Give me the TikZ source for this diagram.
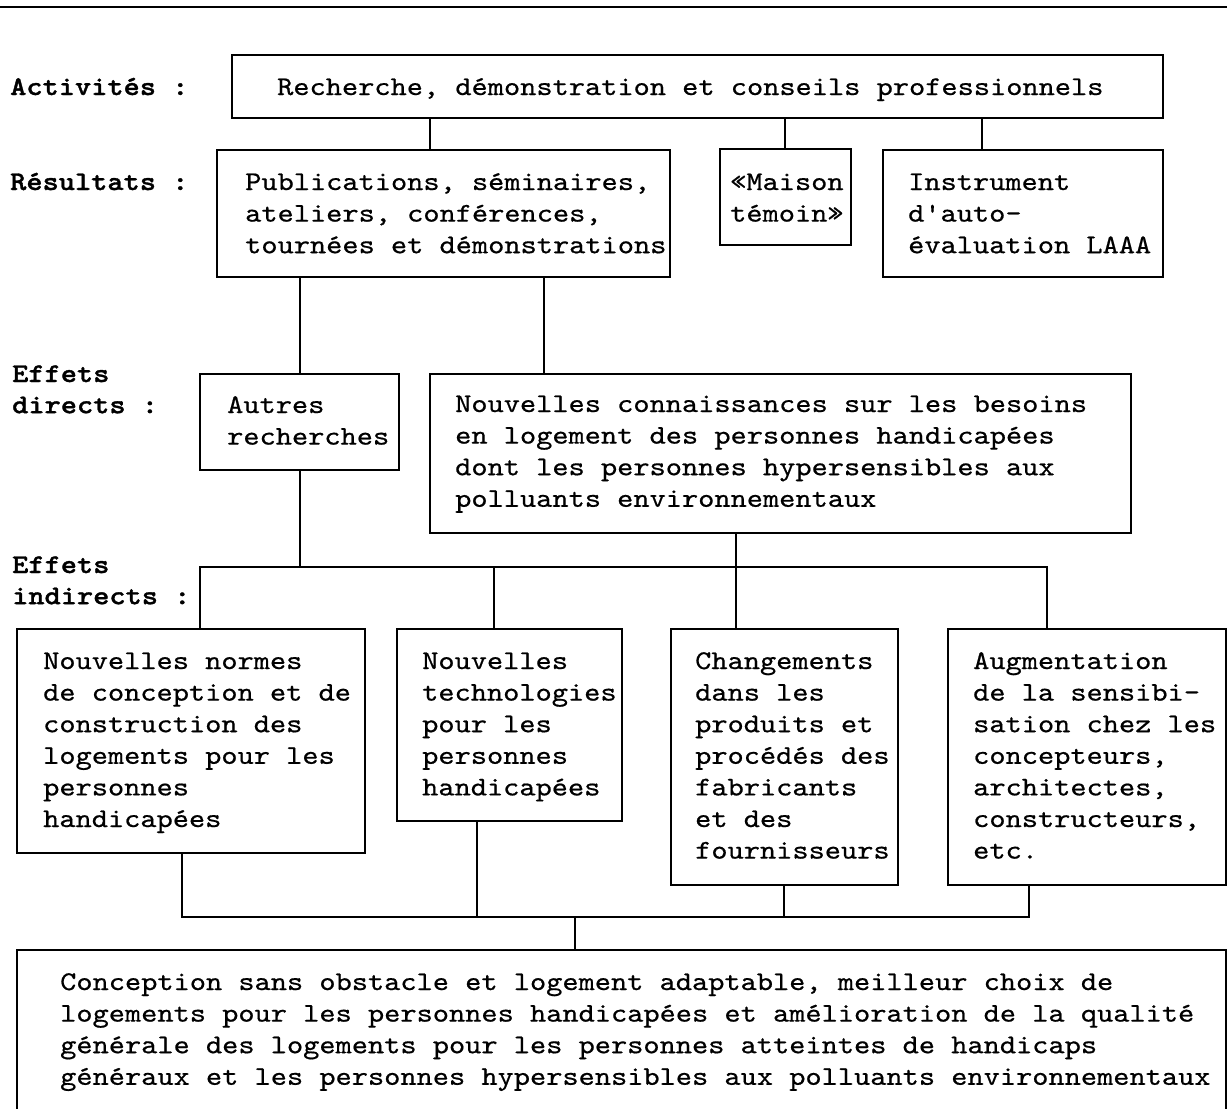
\documentclass[tikz,border=0pt]{standalone}
\usepackage{fontspec}
\newfontfamily\dfont[FakeStretch=1.143,FakeBold=0.6]{lmmono10-regular.otf}
\newfontfamily\lfont[FakeStretch=1.143,FakeBold=1.2]{lmmonolt10-bold.otf}
\tikzset{
  x=1pt, y=-1pt,
  box/.style={draw, line width=1.3pt, anchor=north west, inner sep=0pt, outer sep=0pt},
  txt/.style={font=\dfont\fontsize{27}{31.6}\selectfont, align=left, anchor=base west, inner sep=0pt},
  lbl/.style={font=\lfont\fontsize{27}{31.2}\selectfont, align=left, anchor=base west, inner sep=0pt},
  conn/.style={line width=1.3pt}
}
\begin{document}
\begin{tikzpicture}
\useasboundingbox (0,0) rectangle (1227,1109);
\clip (0,0) rectangle (1227,1109);
\fill[white] (0,0) rectangle (1227,1109);
% top rule
\draw[line width=1.6pt] (0,7) -- (1227,7);

% labels (anchored at the baseline of their last line)
\node[lbl] (l1) at (10,95) {Activités :};
\node[lbl] (l2) at (10,190) {Résultats :};
\node[lbl] (l3) at (12,413.2) {Effets\\directs :};
\node[lbl] (l4) at (12,604.2) {Effets\\indirects :};

% boxes and their texts (texts anchored at the baseline of their last line)
\node[box, minimum width=931pt, minimum height=63pt] (A) at (232,55) {};
\node[txt] (tA) at (277,95) {Recherche, démonstration et conseils professionnels};

\node[box, minimum width=453pt, minimum height=127pt] (P) at (217,150) {};
\node[txt] (tP) at (245,253.2) {Publications, séminaires,\\ateliers, conférences,\\tournées et démonstrations};

\node[box, minimum width=131pt, minimum height=96pt] (M) at (720,149) {};
\node[txt] (tM) at (730,221.6) {«Maison\\témoin»};

\node[box, minimum width=280pt, minimum height=127pt] (I) at (883,150) {};
\node[txt] (tI) at (908,253.2) {Instrument\\d'auto-\\évaluation LAAA};

\node[box, minimum width=199pt, minimum height=96pt] (AR) at (200,374) {};
\node[txt] (tAR) at (227,444.6) {Autres\\recherches};

\node[box, minimum width=701pt, minimum height=159pt] (NC) at (430,374) {};
\node[txt] (tNC) at (455,506.8) {Nouvelles connaissances sur les besoins\\en logement des personnes handicapées\\dont les personnes hypersensibles aux\\polluants environnementaux};

\node[box, minimum width=348pt, minimum height=224pt] (B1) at (17,629) {};
\node[txt] (tB1) at (43,827) {Nouvelles normes\\de conception et de\\construction des\\logements pour les\\personnes\\handicapées};

\node[box, minimum width=225pt, minimum height=192pt] (B2) at (397,629) {};
\node[txt] (tB2) at (422,795.4) {Nouvelles\\technologies\\pour les\\personnes\\handicapées};

\node[box, minimum width=227pt, minimum height=256pt] (B3) at (671,629) {};
\node[txt] (tB3) at (695,858.6) {Changements\\dans les\\produits et\\procédés des\\fabricants\\et des\\fournisseurs};

\node[box, minimum width=278pt, minimum height=256pt] (B4) at (948,629) {};
\node[txt] (tB4) at (973,858.6) {Augmentation\\de la sensibi-\\sation chez les\\concepteurs,\\architectes,\\constructeurs,\\etc.};

\node[box, minimum width=1209pt, minimum height=190pt] (F) at (17,950) {};
\node[txt] (tF) at (60,1084.8) {Conception sans obstacle et logement adaptable, meilleur choix de\\logements pour les personnes handicapées et amélioration de la qualité\\générale des logements pour les personnes atteintes de handicaps\\généraux et les personnes hypersensibles aux polluants environnementaux};

% connectors
\draw[conn] (430,0 |- A.south) -- (430,0 |- P.north);
\draw[conn] (785,0 |- A.south) -- (785,0 |- M.north);
\draw[conn] (982,0 |- A.south) -- (982,0 |- I.north);

\draw[conn] (300,0 |- P.south) -- (300,0 |- AR.north);
\draw[conn] (544,0 |- P.south) -- (544,0 |- NC.north);

\coordinate (busA) at (300,567);
\coordinate (busB) at (494,567);
\draw[conn] (300,0 |- AR.south) -- (busA);
\draw[conn] (736,0 |- NC.south) -- (736,0 |- B3.north);
\draw[conn] (200,0 |- B1.north) |- (1047,567) -- (1047,0 |- B4.north);
\draw[conn] (busB) -- (494,0 |- B2.north);

\coordinate (busC) at (477,917);
\coordinate (busD) at (784,917);
\coordinate (busE) at (575,917);
\draw[conn] (182,0 |- B1.south) |- (1029,917) -- (1029,0 |- B4.south);
\draw[conn] (477,0 |- B2.south) -- (busC);
\draw[conn] (784,0 |- B3.south) -- (busD);
\draw[conn] (busE) -- (575,0 |- F.north);
\end{tikzpicture}
\end{document}
